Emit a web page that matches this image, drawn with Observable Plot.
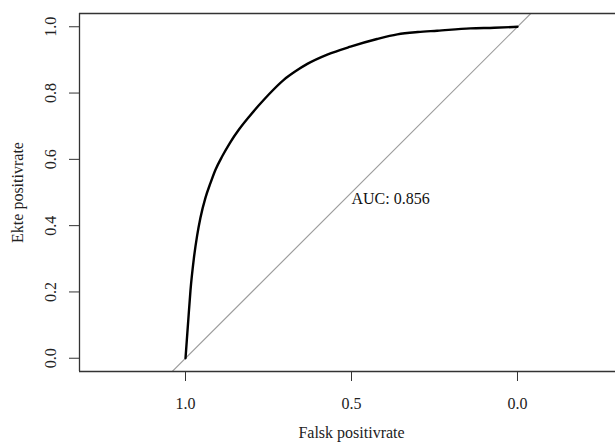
<!DOCTYPE html>
<html>
<head>
<meta charset="utf-8">
<script src="https://cdn.jsdelivr.net/npm/d3@7"></script>
<script src="https://cdn.jsdelivr.net/npm/@observablehq/plot@0.6"></script>
<style>
  html, body { margin: 0; padding: 0; background: #fff; overflow: hidden; }
</style>
</head>
<body>
<div id="chart"></div>
<script>
// ROC curve: specificity (x, reversed) and sensitivity (y)
const specificity = [1.000, 0.996, 0.992, 0.985, 0.975, 0.965, 0.955, 0.940, 0.925, 0.910, 0.889, 0.866, 0.839, 0.809, 0.779, 0.750, 0.704, 0.670, 0.633, 0.573, 0.503, 0.423, 0.362, 0.300, 0.242, 0.142, 0.070, 0.000];
const sensitivity = [0.000, 0.055, 0.110, 0.205, 0.300, 0.370, 0.424, 0.484, 0.528, 0.568, 0.610, 0.650, 0.690, 0.728, 0.763, 0.795, 0.840, 0.865, 0.888, 0.916, 0.940, 0.963, 0.977, 0.984, 0.988, 0.995, 0.997, 1.000];
const auc = "0.856";
const xTicks = [1.0, 0.5, 0.0];
const yTicks = [0.0, 0.2, 0.4, 0.6, 0.8, 1.0];
const xLabel = "Falsk positivrate";
const yLabel = "Ekte positivrate";
const xDomain = [1.3193, -0.2952];
const yDomain = [-0.04, 1.04];

const roc = specificity.map((s, i) => ({spec: s, sens: sensitivity[i]}));
// chance diagonal: sensitivity = 1 - specificity, across the whole plotted range
const diagonal = xDomain.map(s => ({spec: s, sens: 1 - s}));

const fmt = d3.format(".1f");
const axisColor = "#333";

const chart = Plot.plot({
  width: 615,
  height: 443,
  marginLeft: 79,
  marginRight: 0,
  marginTop: 13,
  marginBottom: 72,
  style: {fontFamily: "'Liberation Serif', 'Times New Roman', serif", fontSize: "16px", color: "#222", background: "#fff"},
  x: {domain: xDomain, axis: null},
  y: {domain: yDomain, axis: null},
  marks: [
    Plot.line(diagonal, {x: "spec", y: "sens", stroke: "#9e9e9e", strokeWidth: 1.2, clip: true}),
    Plot.line(roc, {x: "spec", y: "sens", curve: "monotone-x", stroke: "#000", strokeWidth: 2.4, strokeLinejoin: "round"}),
    Plot.ruleY(yDomain, {stroke: axisColor, strokeWidth: 1.3}),
    Plot.ruleX([xDomain[0]], {stroke: axisColor, strokeWidth: 1.3}),
    Plot.axisX({ticks: xTicks, tickSize: 10, tickPadding: 16, tickFormat: fmt, label: null, stroke: axisColor, fontSize: 16}),
    Plot.axisY({ticks: yTicks, tickSize: 10, tickFormat: () => "", label: null, stroke: axisColor}),
    Plot.text(yTicks, {y: d => d, text: d => fmt(d), frameAnchor: "left", dx: -24, rotate: -90, lineAnchor: "bottom", textAnchor: "middle", fontSize: 16, fill: "#222"}),
    Plot.text([yLabel], {text: d => d, frameAnchor: "left", dx: -57, rotate: -90, lineAnchor: "bottom", textAnchor: "middle", fontSize: 16, fill: "#222"}),
    Plot.text([xLabel], {x: () => 0.5, text: d => d, frameAnchor: "bottom", dy: 66, lineAnchor: "bottom", textAnchor: "middle", fontSize: 16, fill: "#222"}),
    Plot.text([auc], {x: () => 0.5, y: () => 0.5, text: d => `AUC: ${d}`, textAnchor: "start", lineAnchor: "top", fontSize: 16, fill: "#111"})
  ]
});
document.getElementById("chart").appendChild(chart);
</script>
</body>
</html>
